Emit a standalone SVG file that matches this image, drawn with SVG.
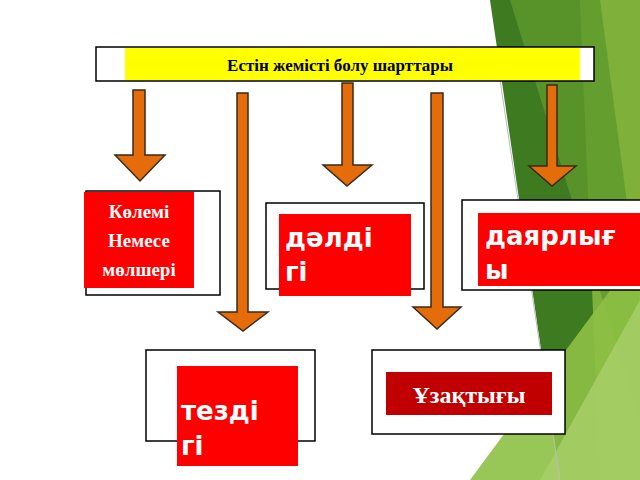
<svg xmlns="http://www.w3.org/2000/svg" width="640" height="480" viewBox="0 0 640 480">
<style>
.ar{fill:#E46C0A;stroke:#3a2a1a;stroke-width:1.5}
.ob{fill:#fff;stroke:#000;stroke-width:1.5}
.wt{fill:#fff;font-family:"DejaVu Sans",sans-serif;font-weight:bold;font-size:26px}
.st{fill:#fff;font-family:"Liberation Serif",serif;font-weight:bold;font-size:19px;text-anchor:middle}
</style>
<rect width="640" height="480" fill="#fff"/>
<g id="bg">
<polygon points="490,0 640,0 640,480 560,480" fill="#3E7A1F"/>
<polygon points="580,0 640,0 640,480 600,480" fill="#7FB13A"/>
<polygon points="510,0 600,0 640,300 640,420" fill="#5E9A2C" opacity="0.8"/>
<polygon points="640,250 640,480 470,480" fill="#8DC045" opacity="0.9"/>
<polygon points="640,300 640,480 540,480" fill="#A9D06A" opacity="0.8"/>
<line x1="500" y1="80" x2="560" y2="480" stroke="#bbb" stroke-width="1"/>
</g>
<g id="connectors">
<polygon class="ar" points="133,90 145,90 145,155 165,155 140,181 115,155 133,155"/>
<polygon class="ar" points="237,93 248,93 248,312 268,312 243,331 218,312 237,312"/>
<polygon class="ar" points="342,83 353,83 353,165 372,165 347,186 323,165 342,165"/>
<polygon class="ar" points="431,93 443,93 443,307 461,307 437,329 413,307 431,307"/>
<polygon class="ar" points="547,85 557,85 557,166 576,166 552,186 529,166 547,166"/>
</g>
<g id="title">
<rect class="ob" x="96" y="47" width="498" height="34"/>
<rect x="125" y="48" width="455" height="32" fill="#FFFF00"/>
<text x="340" y="71" text-anchor="middle" font-family="Liberation Serif,serif" font-weight="bold" font-size="17">Естін жемісті болу шарттары</text>
</g>
<g id="n1">
<rect class="ob" x="86" y="191" width="134" height="104"/>
<rect x="84" y="192" width="110" height="96" fill="#FF0000"/>
<text class="st" x="139" y="218">Көлемі</text>
<text class="st" x="139" y="247">Немесе</text>
<text class="st" x="139" y="276">мөлшері</text>
</g>
<g id="n2">
<rect class="ob" x="266" y="203" width="158" height="86"/>
<rect x="279" y="214" width="132" height="82" fill="#FF0000"/>
<text class="wt" x="285" y="247">дәлді</text>
<text class="wt" x="285" y="281">гі</text>
</g>
<g id="n3">
<rect class="ob" x="462" y="200" width="182" height="90"/>
<rect x="478" y="213" width="162" height="73" fill="#FF0000"/>
<text class="wt" x="485" y="245">даярлығ</text>
<text class="wt" x="485" y="279">ы</text>
</g>
<g id="n4">
<rect class="ob" x="146" y="350" width="169" height="91"/>
<rect x="177" y="366" width="121" height="100" fill="#FF0000"/>
<text class="wt" x="181" y="420">тезді</text>
<text class="wt" x="181" y="455">гі</text>
</g>
<g id="n5">
<rect class="ob" x="372" y="350" width="193" height="84"/>
<rect x="386" y="372" width="166" height="43" fill="#C00000"/>
<text x="469" y="403" text-anchor="middle" fill="#fff" font-family="Liberation Serif,serif" font-weight="bold" font-size="24">Ұзақтығы</text>
</g>
</svg>
